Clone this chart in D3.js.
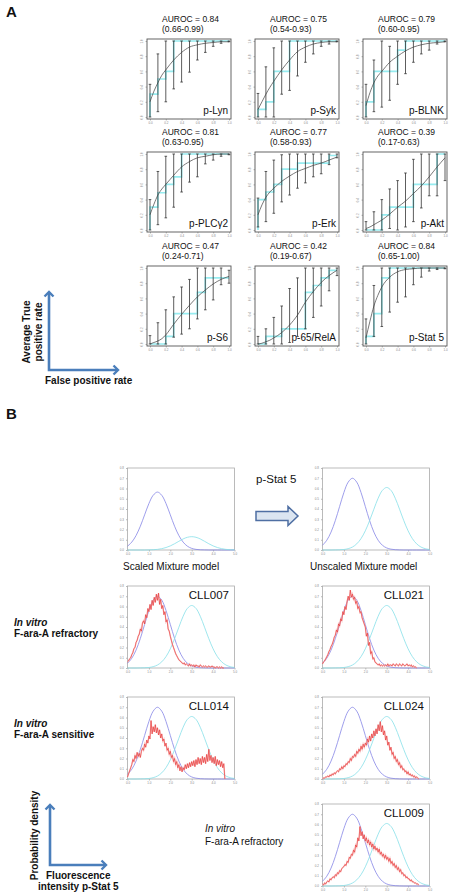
<!DOCTYPE html>
<html><head><meta charset="utf-8">
<script src="https://cdn.jsdelivr.net/npm/d3@7/dist/d3.min.js"></script>
<style>body{margin:0;background:#fff}svg{display:block}text{font-family:"Liberation Sans",Arial,sans-serif}</style>
</head><body><svg id="c" width="451" height="893"></svg>
<script>
// ---------------- DATA: panel A (ROC) ----------------
const rocMarkers = ["p-Lyn","p-Syk","p-BLNK","p-PLCγ2","p-Erk","p-Akt","p-S6","p-65/RelA","p-Stat 5"];
const aurocValues = ["0.84","0.75","0.79","0.81","0.77","0.39","0.47","0.42","0.84"];
const aurocCI = ["(0.66-0.99)","(0.54-0.93)","(0.60-0.95)","(0.63-0.95)","(0.58-0.93)","(0.17-0.63)","(0.24-0.71)","(0.19-0.67)","(0.65-1.00)"];
const rocTicks = [0,0.2,0.4,0.6,0.8,1.0];
const fprGrid = [0,0.1,0.2,0.3,0.4,0.5,0.6,0.7,0.8,0.9,1.0];
const fitX = [0,0.05,0.1,0.15,0.2,0.3,0.4,0.5,0.6,0.7,0.8,0.9,1.0];
const rocFits = [
  [0.2,0.34,0.45,0.55,0.62,0.75,0.85,0.92,0.95,0.97,0.98,0.99,0.99],
  [0.1,0.2,0.3,0.39,0.47,0.62,0.75,0.86,0.92,0.96,0.98,0.99,0.99],
  [0.15,0.32,0.45,0.54,0.6,0.72,0.8,0.87,0.92,0.95,0.97,0.98,0.99],
  [0.2,0.34,0.46,0.54,0.6,0.72,0.83,0.9,0.95,0.97,0.99,1.0,1.0],
  [0.2,0.33,0.43,0.5,0.55,0.64,0.71,0.77,0.81,0.85,0.88,0.92,0.96],
  [0.02,0.04,0.07,0.1,0.13,0.21,0.3,0.38,0.48,0.58,0.7,0.83,0.95],
  [0.0,0.02,0.04,0.07,0.12,0.26,0.39,0.51,0.62,0.71,0.79,0.85,0.89],
  [0.0,0.01,0.03,0.05,0.08,0.15,0.25,0.38,0.55,0.69,0.81,0.9,0.97],
  [0.08,0.3,0.5,0.64,0.75,0.88,0.95,0.98,0.99,1.0,1.0,1.0,1.0]
];
const rocSteps = [
  [[0,0],[0,0.3],[0.1,0.3],[0.1,0.5],[0.2,0.5],[0.2,0.6],[0.3,0.6],[0.3,1],[1,1]],
  [[0,0],[0,0.1],[0.1,0.1],[0.1,0.2],[0.2,0.2],[0.2,0.6],[0.4,0.6],[0.4,1],[1,1]],
  [[0,0],[0,0.2],[0.1,0.2],[0.1,0.6],[0.4,0.6],[0.4,0.88],[0.5,0.88],[0.5,1],[1,1]],
  [[0,0],[0,0.3],[0.1,0.3],[0.1,0.49],[0.2,0.49],[0.2,0.6],[0.3,0.6],[0.3,0.7],[0.4,0.7],[0.4,1],[1,1]],
  [[0,0],[0,0.4],[0.1,0.4],[0.1,0.5],[0.2,0.5],[0.2,0.6],[0.3,0.6],[0.3,0.8],[0.5,0.8],[0.5,0.88],[0.9,0.88],[0.9,0.98],[1,0.98]],
  [[0,0],[0.2,0],[0.2,0.2],[0.3,0.2],[0.3,0.3],[0.6,0.3],[0.6,0.6],[0.9,0.6],[0.9,1],[1,1]],
  [[0,0],[0.2,0],[0.2,0.1],[0.3,0.1],[0.3,0.4],[0.6,0.4],[0.6,0.68],[0.7,0.68],[0.7,0.87],[1,0.87]],
  [[0,0],[0.1,0],[0.1,0.1],[0.3,0.1],[0.3,0.2],[0.6,0.2],[0.6,0.68],[0.7,0.68],[0.7,0.77],[0.8,0.77],[0.8,0.87],[0.9,0.87],[0.9,0.97],[1,0.97]],
  [[0,0],[0,0.1],[0.1,0.1],[0.1,0.4],[0.2,0.4],[0.2,0.87],[0.3,0.87],[0.3,1],[1,1]]
];
const rocLower = [
  [0,0.07,0.2,0.37,0.46,0.59,0.75,0.85,0.93,0.97,0.99],
  [0,0,0,0.3,0.35,0.54,0.72,0.83,0.93,0.96,0.99],
  [0,0.07,0.13,0.22,0.43,0.57,0.72,0.83,0.88,0.96,0.99],
  [0,0.07,0.16,0.3,0.5,0.63,0.7,0.87,0.92,0.97,0.99],
  [0.04,0.11,0.22,0.37,0.46,0.55,0.62,0.7,0.74,0.86,0.95],
  [0,0,0,0.02,0,0.04,0.11,0.29,0.45,0.45,0.65],
  [0,0,0,0.09,0.13,0.2,0.33,0.45,0.58,0.78,0.8],
  [0,0,0,0,0.02,0.1,0.2,0.35,0.5,0.7,0.9],
  [0,0.1,0.23,0.42,0.55,0.62,0.78,0.88,0.96,0.98,0.99]
];
const rocUpper = [
  [0.43,0.83,1,1,1,1,1,1,1,1,1],
  [0.31,0.66,0.91,1,1,1,1,1,1,1,1],
  [0.43,0.75,1,0.93,1,1,1,1,1,1,1],
  [0.4,0.77,0.97,1,1,1,1,1,1,1,1],
  [0.42,0.77,0.92,0.99,1,1,1,1,1,1,1],
  [0.11,0.24,0.4,0.54,0.65,0.75,0.93,1,1,1,1],
  [0.11,0.28,0.45,0.62,0.75,0.85,1,1,1,1,0.97],
  [0.1,0.2,0.35,0.5,0.73,0.87,1,1,1,1,1],
  [0.33,0.77,1,1,1,1,1,1,1,1,1]
];

// ---------------- DATA: panel B (mixture model) ----------------
const densityTicks = [0,0.1,0.2,0.3,0.4,0.5,0.6,0.7,0.8];
const intensityTicks = [0,1,2,3,4,5];
const modelX = [0,0.2,0.4,0.6,0.8,1.0,1.2,1.4,1.6,1.8,2.0,2.2,2.4,2.6,2.8,3.0,3.2,3.4,3.6,3.8,4.0,4.2,4.4,4.6,4.8,5.0];
const unscaledLow = [0.046,0.095,0.175,0.288,0.425,0.561,0.662,0.700,0.662,0.561,0.425,0.288,0.175,0.095,0.046,0.020,0.008,0.003,0.001,0,0,0,0,0,0,0];
const unscaledHigh = [0,0,0,0.001,0.002,0.005,0.013,0.029,0.060,0.111,0.187,0.286,0.398,0.505,0.582,0.610,0.582,0.505,0.398,0.286,0.187,0.111,0.060,0.029,0.013,0.005];
const scaledLow = [0.037,0.077,0.141,0.232,0.343,0.453,0.534,0.565,0.534,0.453,0.343,0.232,0.141,0.077,0.037,0.016,0.006,0.002,0.001,0,0,0,0,0,0,0];
const scaledHigh = [0,0,0,0,0,0.001,0.003,0.006,0.013,0.024,0.040,0.061,0.085,0.108,0.124,0.130,0.124,0.108,0.085,0.061,0.040,0.024,0.013,0.006,0.003,0.001];
const histBinWidth = 0.05;
const sampleNames = ["CLL007","CLL021","CLL014","CLL024","CLL009"];
const histCLL007 = [0.06,0.07,0.09,0.10,0.13,0.15,0.19,0.20,0.25,0.27,0.31,0.33,0.38,0.36,0.44,0.46,0.43,0.52,0.49,0.58,0.55,0.62,0.57,0.66,0.61,0.69,0.64,0.72,0.66,0.73,0.62,0.67,0.58,0.61,0.52,0.55,0.45,0.47,0.38,0.36,0.31,0.27,0.23,0.20,0.17,0.14,0.12,0.10,0.08,0.07,0.06,0.05,0.04,0.05,0.03,0.04,0.03,0.02,0.04,0.02,0.03,0.02,0.03,0.01,0.03,0.02,0.02,0.01,0.03,0.02,0.01,0.02,0.01,0.02,0.01,0.01,0.02,0.01,0.01,0.02,0.01,0.01,0.00,0.01,0.01,0.00,0.01,0.00,0.01,0.00,0.00];
const histCLL021 = [0.04,0.06,0.07,0.09,0.11,0.13,0.16,0.18,0.21,0.23,0.26,0.30,0.32,0.37,0.35,0.43,0.41,0.48,0.46,0.55,0.52,0.60,0.57,0.65,0.70,0.66,0.76,0.69,0.72,0.67,0.69,0.63,0.65,0.58,0.60,0.54,0.55,0.49,0.46,0.43,0.40,0.31,0.34,0.22,0.25,0.14,0.16,0.09,0.10,0.06,0.05,0.04,0.03,0.04,0.02,0.03,0.02,0.03,0.02,0.03,0.02,0.04,0.02,0.03,0.03,0.02,0.04,0.03,0.02,0.04,0.03,0.02,0.04,0.03,0.02,0.04,0.03,0.02,0.03,0.04,0.02,0.03,0.02,0.03,0.01,0.02,0.01,0.01,0.00];
const histCLL014 = [0.02,0.05,0.08,0.11,0.14,0.19,0.17,0.23,0.20,0.26,0.22,0.25,0.21,0.27,0.30,0.28,0.34,0.31,0.38,0.35,0.42,0.39,0.57,0.44,0.51,0.46,0.53,0.45,0.50,0.43,0.48,0.40,0.44,0.37,0.39,0.32,0.35,0.28,0.30,0.24,0.27,0.21,0.23,0.17,0.20,0.14,0.17,0.11,0.14,0.08,0.12,0.07,0.11,0.09,0.14,0.10,0.15,0.11,0.16,0.12,0.17,0.13,0.18,0.12,0.19,0.14,0.21,0.15,0.20,0.14,0.22,0.16,0.21,0.15,0.24,0.17,0.29,0.18,0.23,0.16,0.21,0.15,0.22,0.13,0.19,0.14,0.18,0.12,0.17,0.11,0.15,0.00];
const histCLL024 = [0.00,0.01,0.01,0.02,0.02,0.03,0.02,0.04,0.03,0.05,0.04,0.06,0.05,0.07,0.08,0.07,0.10,0.09,0.12,0.10,0.13,0.12,0.15,0.14,0.17,0.16,0.20,0.18,0.22,0.21,0.24,0.22,0.27,0.25,0.29,0.27,0.32,0.29,0.34,0.31,0.35,0.33,0.39,0.36,0.42,0.37,0.44,0.40,0.47,0.42,0.49,0.44,0.53,0.47,0.56,0.46,0.52,0.43,0.47,0.38,0.42,0.33,0.36,0.28,0.31,0.24,0.26,0.20,0.22,0.17,0.19,0.14,0.16,0.11,0.13,0.09,0.10,0.07,0.08,0.05,0.07,0.04,0.05,0.03,0.04,0.02,0.03,0.01,0.02,0.01,0.00];
const histCLL009 = [0.02,0.01,0.03,0.02,0.04,0.05,0.04,0.07,0.06,0.08,0.09,0.08,0.11,0.10,0.13,0.12,0.15,0.14,0.17,0.18,0.19,0.21,0.20,0.24,0.23,0.28,0.27,0.31,0.30,0.35,0.33,0.40,0.38,0.47,0.44,0.58,0.49,0.53,0.46,0.50,0.44,0.47,0.42,0.45,0.40,0.43,0.38,0.41,0.36,0.39,0.35,0.37,0.33,0.36,0.31,0.33,0.29,0.31,0.27,0.30,0.26,0.28,0.24,0.27,0.22,0.24,0.20,0.22,0.18,0.20,0.16,0.18,0.14,0.16,0.12,0.13,0.10,0.11,0.08,0.09,0.07,0.07,0.05,0.06,0.04,0.04,0.03,0.03,0.02,0.02,0.01];
const sampleHists = [histCLL007,histCLL021,histCLL014,histCLL024,histCLL009];

// ---------------- DRAWING ----------------
const svg = d3.select("#c");
svg.append("rect").attr("width",451).attr("height",893).attr("fill","#fff");
const BLUE = "#4a7ebb", STEP = "#96ecf0", LOWC = "#8585e6", HIGHC = "#86e0e8";

function label(x,y,t,opts={}){
  const e = svg.append("text").attr("x",x).attr("y",y).text(t)
    .attr("font-size",opts.size||10).attr("fill",opts.fill||"#111");
  if(opts.bold) e.attr("font-weight","bold");
  if(opts.italic) e.attr("font-style","italic");
  if(opts.anchor) e.attr("text-anchor",opts.anchor);
  if(opts.rotate) e.attr("transform",`rotate(${opts.rotate},${x},${y})`);
  return e;
}
function styleAxis(g){
  g.select(".domain").remove();
  g.selectAll(".tick line").attr("stroke","#777").attr("stroke-width",0.5);
  g.selectAll(".tick text").attr("font-size",3).attr("fill","#888").attr("font-family","Liberation Sans, Arial");
}

label(6,17,"A",{size:15,bold:true});
label(6,419,"B",{size:15,bold:true});

// ---- Panel A ----
const colX=[147,255,363], rowY=[39,152,266], PW=84, PH=80;
rocMarkers.forEach((m,i)=>{
  const left=colX[i%3], top=rowY[Math.floor(i/3)];
  const x=d3.scaleLinear().domain([0,1]).range([left+3,left+PW-2]);
  const y=d3.scaleLinear().domain([0,1]).range([top+PH-2,top+2]);
  const g=svg.append("g");
  g.append("g").attr("transform",`translate(0,${top+PH})`)
    .call(d3.axisBottom(x).tickValues(rocTicks).tickFormat(d3.format(".1f")).tickSize(1.5).tickPadding(1.5)).call(styleAxis);
  const ya=g.append("g").attr("transform",`translate(${left},0)`)
    .call(d3.axisLeft(y).tickValues(rocTicks).tickFormat(d3.format(".1f")).tickSize(1.5).tickPadding(2)).call(styleAxis);
  ya.selectAll(".tick text").attr("transform","rotate(-90)").attr("text-anchor","middle").attr("x",0).attr("y",-4).attr("dy","0");
  g.append("path").datum(rocSteps[i])
    .attr("d",d3.line().x(d=>x(d[0])).y(d=>y(d[1])))
    .attr("fill","none").attr("stroke",STEP).attr("stroke-width",1.7);
  g.append("path").datum(fitX.map((fx,k)=>[fx,rocFits[i][k]]))
    .attr("d",d3.line().curve(d3.curveMonotoneX).x(d=>x(d[0])).y(d=>y(d[1])))
    .attr("fill","none").attr("stroke","#555").attr("stroke-width",0.8);
  fprGrid.forEach((fx,k)=>{
    const lo=y(rocLower[i][k]), hi=y(rocUpper[i][k]), cx=x(fx);
    g.append("line").attr("x1",cx).attr("x2",cx).attr("y1",lo).attr("y2",hi).attr("stroke","#333").attr("stroke-width",0.8);
    [lo,hi].forEach(v=>g.append("line").attr("x1",cx-1.3).attr("x2",cx+1.3).attr("y1",v).attr("y2",v).attr("stroke","#333").attr("stroke-width",0.8));
  });
  g.append("rect").attr("x",left).attr("y",top).attr("width",PW).attr("height",PH)
    .attr("fill","none").attr("stroke","#555").attr("stroke-width",0.9);
  label(left+15,top-17,"AUROC = "+aurocValues[i],{size:8.5});
  label(left+15,top-7.5,aurocCI[i],{size:8.5});
  label(left+PW-3,top+PH-5,m,{size:10,anchor:"end"});
});

function arrowHead(x,y,dir){
  const s=4.5;
  let pts = dir==="up" ? [[x-s,y+s],[x,y],[x+s,y+s]] : [[x-s,y-s],[x,y],[x-s,y+s]];
  svg.append("polyline").attr("points",pts.map(p=>p.join(",")).join(" "))
    .attr("fill","none").attr("stroke",BLUE).attr("stroke-width",2.4);
}
function corner(x0,y0,yTop,xRight){
  svg.append("polyline").attr("points",`${x0},${yTop} ${x0},${y0} ${xRight},${y0}`)
    .attr("fill","none").attr("stroke",BLUE).attr("stroke-width",2.6);
  arrowHead(x0,yTop,"up"); arrowHead(xRight,y0,"right");
}
corner(49,370,292,118);
label(30,332,"Average True",{bold:true,anchor:"middle",rotate:-90});
label(42,332,"positive rate",{bold:true,anchor:"middle",rotate:-90});
label(45,384,"False positive rate",{bold:true});

// ---- Panel B ----
const BW=107, BH=82;
function mixPanel(left,top,low,high,hist,name){
  const x=d3.scaleLinear().domain([0,5]).range([left,left+BW]);
  const y=d3.scaleLinear().domain([0,0.8]).range([top+BH,top]);
  const g=svg.append("g");
  g.append("g").attr("transform",`translate(0,${top+BH})`)
    .call(d3.axisBottom(x).tickValues(intensityTicks).tickSize(1.5).tickPadding(1.5)).call(styleAxis);
  g.append("g").attr("transform",`translate(${left},0)`)
    .call(d3.axisLeft(y).tickValues(densityTicks).tickFormat(d=>d===0?"0.0":d3.format(".1f")(d)).tickSize(1.5).tickPadding(2)).call(styleAxis);
  g.append("rect").attr("x",left).attr("y",top).attr("width",BW).attr("height",BH)
    .attr("fill","none").attr("stroke","#aaa").attr("stroke-width",0.8);
  const ln=d3.line().curve(d3.curveCatmullRom).x(d=>x(d[0])).y(d=>y(d[1]));
  g.append("path").datum(modelX.map((v,k)=>[v,low[k]])).attr("d",ln).attr("fill","none").attr("stroke",LOWC).attr("stroke-width",0.8);
  g.append("path").datum(modelX.map((v,k)=>[v,high[k]])).attr("d",ln).attr("fill","none").attr("stroke",HIGHC).attr("stroke-width",0.8);
  if(hist){
    const pts=hist.map((v,k)=>[k*histBinWidth,v]);
    const hl=d3.line().x(d=>x(d[0])).y(d=>y(d[1]));
    g.append("path").datum(pts).attr("d",hl).attr("fill","none").attr("stroke","#f6b0b0").attr("stroke-width",1.4).attr("opacity",0.75);
    g.append("path").datum(pts).attr("d",hl).attr("fill","none").attr("stroke","#e52d2d").attr("stroke-width",0.6);
  }
  if(name) label(left+BW-5.5,top+13,name,{size:11.5,anchor:"end"});
}
const bCol=[127.5,322.5];
mixPanel(bCol[0],468,scaledLow,scaledHigh,null,null);
mixPanel(bCol[1],468,unscaledLow,unscaledHigh,null,null);
mixPanel(bCol[0],586,unscaledLow,unscaledHigh,sampleHists[0],sampleNames[0]);
mixPanel(bCol[1],586,unscaledLow,unscaledHigh,sampleHists[1],sampleNames[1]);
mixPanel(bCol[0],697,unscaledLow,unscaledHigh,sampleHists[2],sampleNames[2]);
mixPanel(bCol[1],697,unscaledLow,unscaledHigh,sampleHists[3],sampleNames[3]);
mixPanel(bCol[1],804,unscaledLow,unscaledHigh,sampleHists[4],sampleNames[4]);

label(123,570,"Scaled Mixture model",{size:10});
label(310,570,"Unscaled Mixture model",{size:10});
label(256,483,"p-Stat 5",{size:11.5});
svg.append("path").attr("d","M256,511.5 L288,511.5 L288,506.5 L298,516 L288,525.5 L288,520.5 L256,520.5 Z")
  .attr("fill","#dbe5f1").attr("stroke","#4f6fa3").attr("stroke-width",1.5);

label(14,626,"In vitro",{bold:true,italic:true});
label(14,637,"F-ara-A refractory",{bold:true});
label(14,727,"In vitro",{bold:true,italic:true});
label(14,738,"F-ara-A sensitive",{bold:true});
label(205,832,"In vitro",{italic:true});
label(205,845,"F-ara-A refractory",{});

corner(50,865,805,106);
label(37.5,835.5,"Probability density",{bold:true,anchor:"middle",rotate:-90});
label(46,879,"Fluorescence",{bold:true});
label(38,890,"intensity p-Stat 5",{bold:true});
</script></body></html>
